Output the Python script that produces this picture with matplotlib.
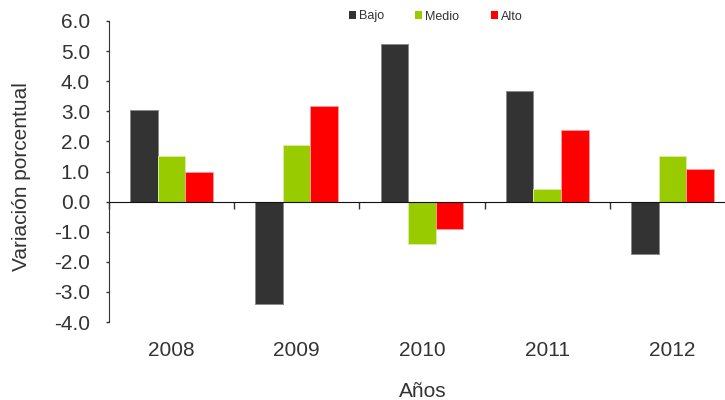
import matplotlib
matplotlib.use("Agg")
import matplotlib.pyplot as plt
import numpy as np

plt.rcParams['font.family'] = ['Liberation Sans', 'DejaVu Sans']

years = ["2008", "2009", "2010", "2011", "2012"]
bajo = [3.03, -3.40, 5.22, 3.69, -1.74]
medio = [1.50, 1.87, -1.41, 0.41, 1.53]
alto = [0.97, 3.16, -0.91, 2.37, 1.09]

series = [("Bajo", bajo, "#333333", "#8a8a8a"),
          ("Medio", medio, "#99cc00", "#d8ee9a"),
          ("Alto", alto, "#ff0000", "#ff9a9a")]

W, H = 725, 400
fig = plt.figure(figsize=(W / 100, H / 100), dpi=100)
left, right, top, bottom = 108.7, 725, 21, 322
ax = fig.add_axes([left / W, (H - bottom) / H, (right - left) / W, (bottom - top) / H])

x = np.arange(len(years))
bw = 0.22
for i, (name, vals, col, edge) in enumerate(series):
    ax.bar(x + (i - 1) * bw, vals, bw, color=col, edgecolor=edge, linewidth=0.7,
           label=name, zorder=2)

ax.set_ylim(-4, 6)
ax.set_xlim(-0.5, -0.5 + (right - left) / 125.3)
yt = np.arange(-4, 7, 1)
ax.set_yticks(yt)
ax.set_yticklabels([f"{v:.1f}" for v in yt])
ax.tick_params(axis='y', length=2.5, width=1, pad=11, labelsize=15, labelcolor='#333333',
               color='#333333')

for s in ['top', 'right']:
    ax.spines[s].set_visible(False)
ax.spines['left'].set_color('#333333')
ax.spines['bottom'].set_position(('data', 0))
ax.spines['bottom'].set_color('#111111')
ax.set_xticks(np.arange(-0.5, 4.5, 1.0))
ax.tick_params(axis='x', length=4.8, width=1, direction='out', labelbottom=False,
               color='#333333')

sec = ax.secondary_xaxis(0)
sec.set_xticks(x)
sec.set_xticklabels(years)
sec.tick_params(length=0, pad=14, labelsize=15, labelcolor='#333333')
sec.spines['bottom'].set_visible(False)

fig.text(22 / W, 1 - 177 / H, "Variación porcentual", rotation=90, ha='center',
         va='center', fontsize=15, color='#333333')
fig.text(423 / W, 1 - 397 / H, "Años", ha='center', va='baseline',
         fontsize=15, color='#333333')

leg = fig.legend(loc='center left', bbox_to_anchor=(349 / W, 1 - 16.5 / H), ncol=3,
                 frameon=False, fontsize=9, handlelength=0.55, handleheight=0.55,
                 handletextpad=0.25, columnspacing=2.5, borderpad=0, borderaxespad=0)
for t in leg.get_texts():
    t.set_color('#333333')
for h in leg.legend_handles:
    h.set_edgecolor('none')

fig.savefig("out.png", dpi=100)
